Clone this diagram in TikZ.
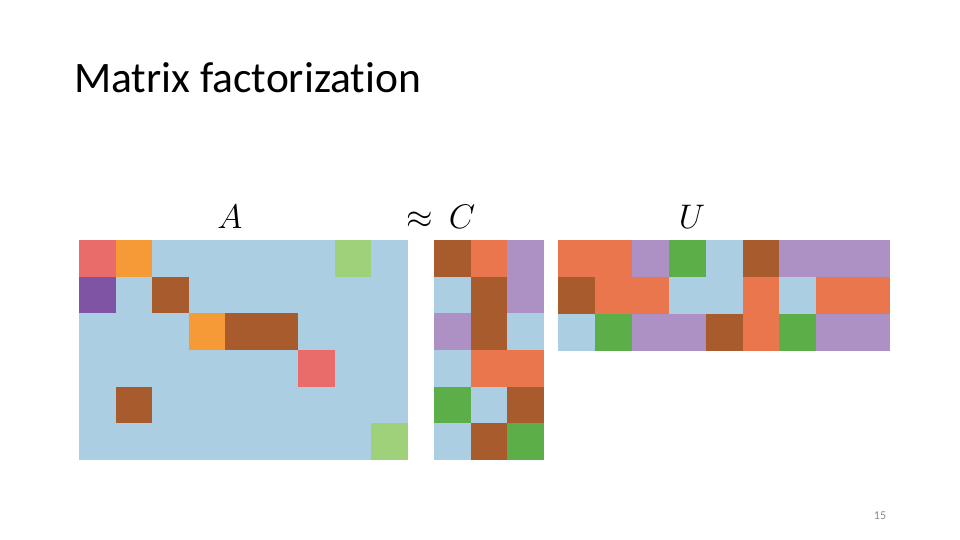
\documentclass[tikz,border=0pt]{standalone}
\usepackage{fontspec}
\setmainfont{Carlito}[Ligatures=NoCommon]
\definecolor{cb}{HTML}{ABCEE2}
\definecolor{cr}{HTML}{E96B6A}
\definecolor{co}{HTML}{F59A37}
\definecolor{cg}{HTML}{9ED179}
\definecolor{cp}{HTML}{7F54A4}
\definecolor{cn}{HTML}{A85B2C}
\definecolor{ce}{HTML}{E9764C}
\definecolor{cl}{HTML}{AD90C4}
\definecolor{cG}{HTML}{5BAE48}
\definecolor{pagegray}{HTML}{8A8A8A}
\begin{document}
\begin{tikzpicture}[x=1pt, y=-1pt, lbl/.style={anchor=base, font=\Huge, scale=1.37}]
\useasboundingbox (0,0) rectangle (960,540);
\node[anchor=base west, inner sep=0pt, font=\fontsize{43.5}{50}\selectfont] (title) at (74,93) {Matrix factorization};
% matrix A, 6 x 9
\foreach \row [count=\i from 0] in {{r,o,b,b,b,b,b,g,b},{p,b,n,b,b,b,b,b,b},{b,b,b,o,n,n,b,b,b},{b,b,b,b,b,b,r,b,b},{b,n,b,b,b,b,b,b,b},{b,b,b,b,b,b,b,b,g}}
  \foreach \c [count=\j from 0] in \row
    \fill[c\c] (79+36.56*\j,240+36.67*\i) rectangle ++(36.56,36.67);
% factor C, 6 x 3
\foreach \row [count=\i from 0] in {{n,e,l},{b,n,l},{l,n,b},{b,e,e},{G,b,n},{b,n,G}}
  \foreach \c [count=\j from 0] in \row
    \fill[c\c] (434+36.67*\j,240+36.67*\i) rectangle ++(36.67,36.67);
% factor U, 3 x 9
\foreach \row [count=\i from 0] in {{e,e,l,G,b,n,l,l,l},{n,e,e,b,b,e,b,e,e},{b,G,l,l,n,e,G,l,l}}
  \foreach \c [count=\j from 0] in \row
    \fill[c\c] (558+36.9*\j,240+37*\i) rectangle ++(36.9,37);
\node[lbl] (lblA) at (230,228) {$A$};
\node[lbl] (approx) at (420,228) {$\approx$};
\node[lbl] (lblC) at (462,228) {$C$};
\node[lbl] (lblU) at (692,228) {$U$};
\node[anchor=base, text=pagegray, font=\fontsize{12}{14}\selectfont] (pagenum) at (880,519) {15};
\end{tikzpicture}
\end{document}
